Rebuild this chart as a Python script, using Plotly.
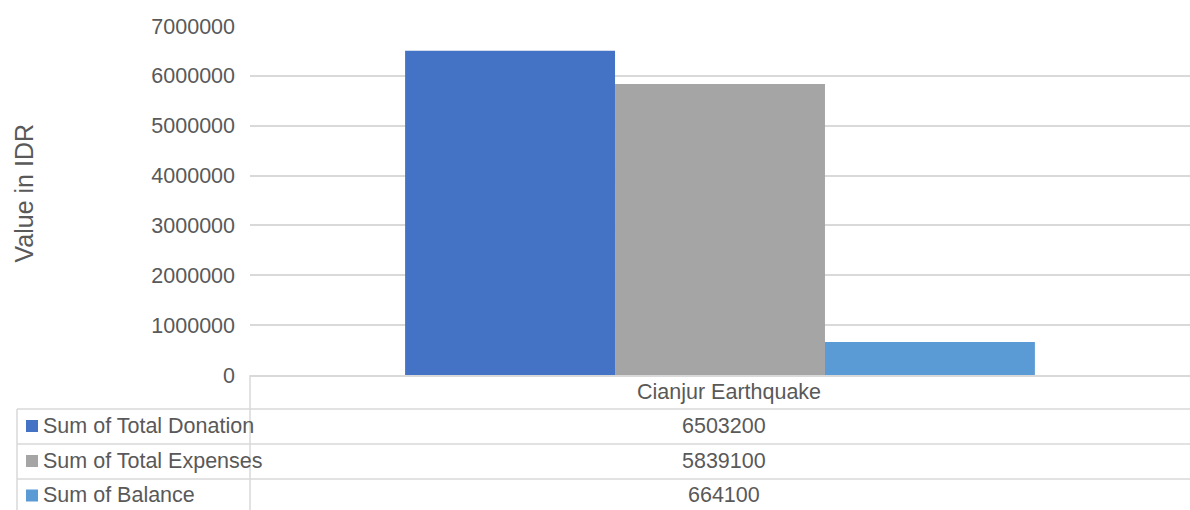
import plotly.graph_objects as go

categories = ["Cianjur Earthquake"]
series_names = ["Sum of Total Donation", "Sum of Total Expenses", "Sum of Balance"]
series_values = [6503200, 5839100, 664100]
series_colors = ["#4472C4", "#A5A5A5", "#5B9BD5"]
y_ticks = [0, 1000000, 2000000, 3000000, 4000000, 5000000, 6000000, 7000000]
y_title = "Value in IDR"

W, H = 1190, 510
L, R, T, B = 250, 0, 26, 135
PW, PH = W - L - R, H - T - B
TEXT = "#595959"
GRID = "#D9D9D9"
FONT = "Liberation Sans, Arial, sans-serif"
FS = 21.5


def px_x(px):
    return (px - L) / PW


def px_y(py):
    return (H - B - py) / PH


fig = go.Figure()
for name, val, col in zip(series_names, series_values, series_colors):
    fig.add_trace(go.Bar(x=categories, y=[val], name=name, marker_color=col,
                         marker_line_width=0))

shapes = []
annotations = []
# table lines
row_lines = [409, 444, 479]
for ry in row_lines:
    shapes.append(dict(type="line", xref="paper", yref="paper",
                       x0=px_x(17), x1=px_x(W), y0=px_y(ry), y1=px_y(ry),
                       line=dict(color=GRID, width=1.5)))
shapes.append(dict(type="line", xref="paper", yref="paper",
                   x0=0, x1=0, y0=0, y1=px_y(H + 5),
                   line=dict(color=GRID, width=1.5)))
shapes.append(dict(type="line", xref="paper", yref="paper",
                   x0=px_x(17), x1=px_x(17), y0=px_y(409), y1=px_y(H + 5),
                   line=dict(color=GRID, width=1.5)))

# header (category) cell
annotations.append(dict(xref="paper", yref="paper", x=px_x(728.5), y=px_y(392),
                        xanchor="center", yanchor="middle", showarrow=False,
                        text=categories[0], font=dict(size=FS, color=TEXT, family=FONT)))

row_centers = [426, 461, 495.5]
for name, val, col, cy in zip(series_names, series_values, series_colors, row_centers):
    shapes.append(dict(type="rect", xref="paper", yref="paper",
                       x0=px_x(26), x1=px_x(38), y0=px_y(cy + 6), y1=px_y(cy - 6),
                       fillcolor=col, line=dict(width=0)))
    annotations.append(dict(xref="paper", yref="paper", x=px_x(41), y=px_y(cy),
                            xanchor="left", yanchor="middle", showarrow=False,
                            text=name, font=dict(size=FS, color=TEXT, family=FONT)))
    annotations.append(dict(xref="paper", yref="paper", x=px_x(724), y=px_y(cy),
                            xanchor="center", yanchor="middle", showarrow=False,
                            text=str(val), font=dict(size=FS, color=TEXT, family=FONT)))

annotations.append(dict(xref="paper", yref="paper", x=px_x(23), y=px_y(193.5),
                        xanchor="center", yanchor="middle", showarrow=False,
                        textangle=-90, text=y_title,
                        font=dict(size=25, color=TEXT, family=FONT)))

fig.update_layout(
    width=W, height=H,
    margin=dict(l=L, r=R, t=T, b=B, autoexpand=False),
    paper_bgcolor="white", plot_bgcolor="white",
    barmode="group", bargap=0.33, bargroupgap=0,
    showlegend=False,
    font=dict(family=FONT, size=FS, color=TEXT),
    shapes=shapes, annotations=annotations,
    xaxis=dict(type="category", showline=True, linecolor=GRID, linewidth=1.5,
               showgrid=False, ticks="", showticklabels=False,
               automargin=False, fixedrange=True),
    yaxis=dict(range=[0, 7000000], tickvals=y_ticks, tickformat="d",
               showgrid=True, gridcolor=GRID, gridwidth=1.5, zeroline=False,
               showline=False, ticks="", ticklabelstandoff=14,
               tickfont=dict(size=FS, color=TEXT), automargin=False, fixedrange=True),
)

fig.write_html("out.html", config={"displayModeBar": False},
               post_script="document.body.style.margin='0';document.body.style.overflow='hidden';")
